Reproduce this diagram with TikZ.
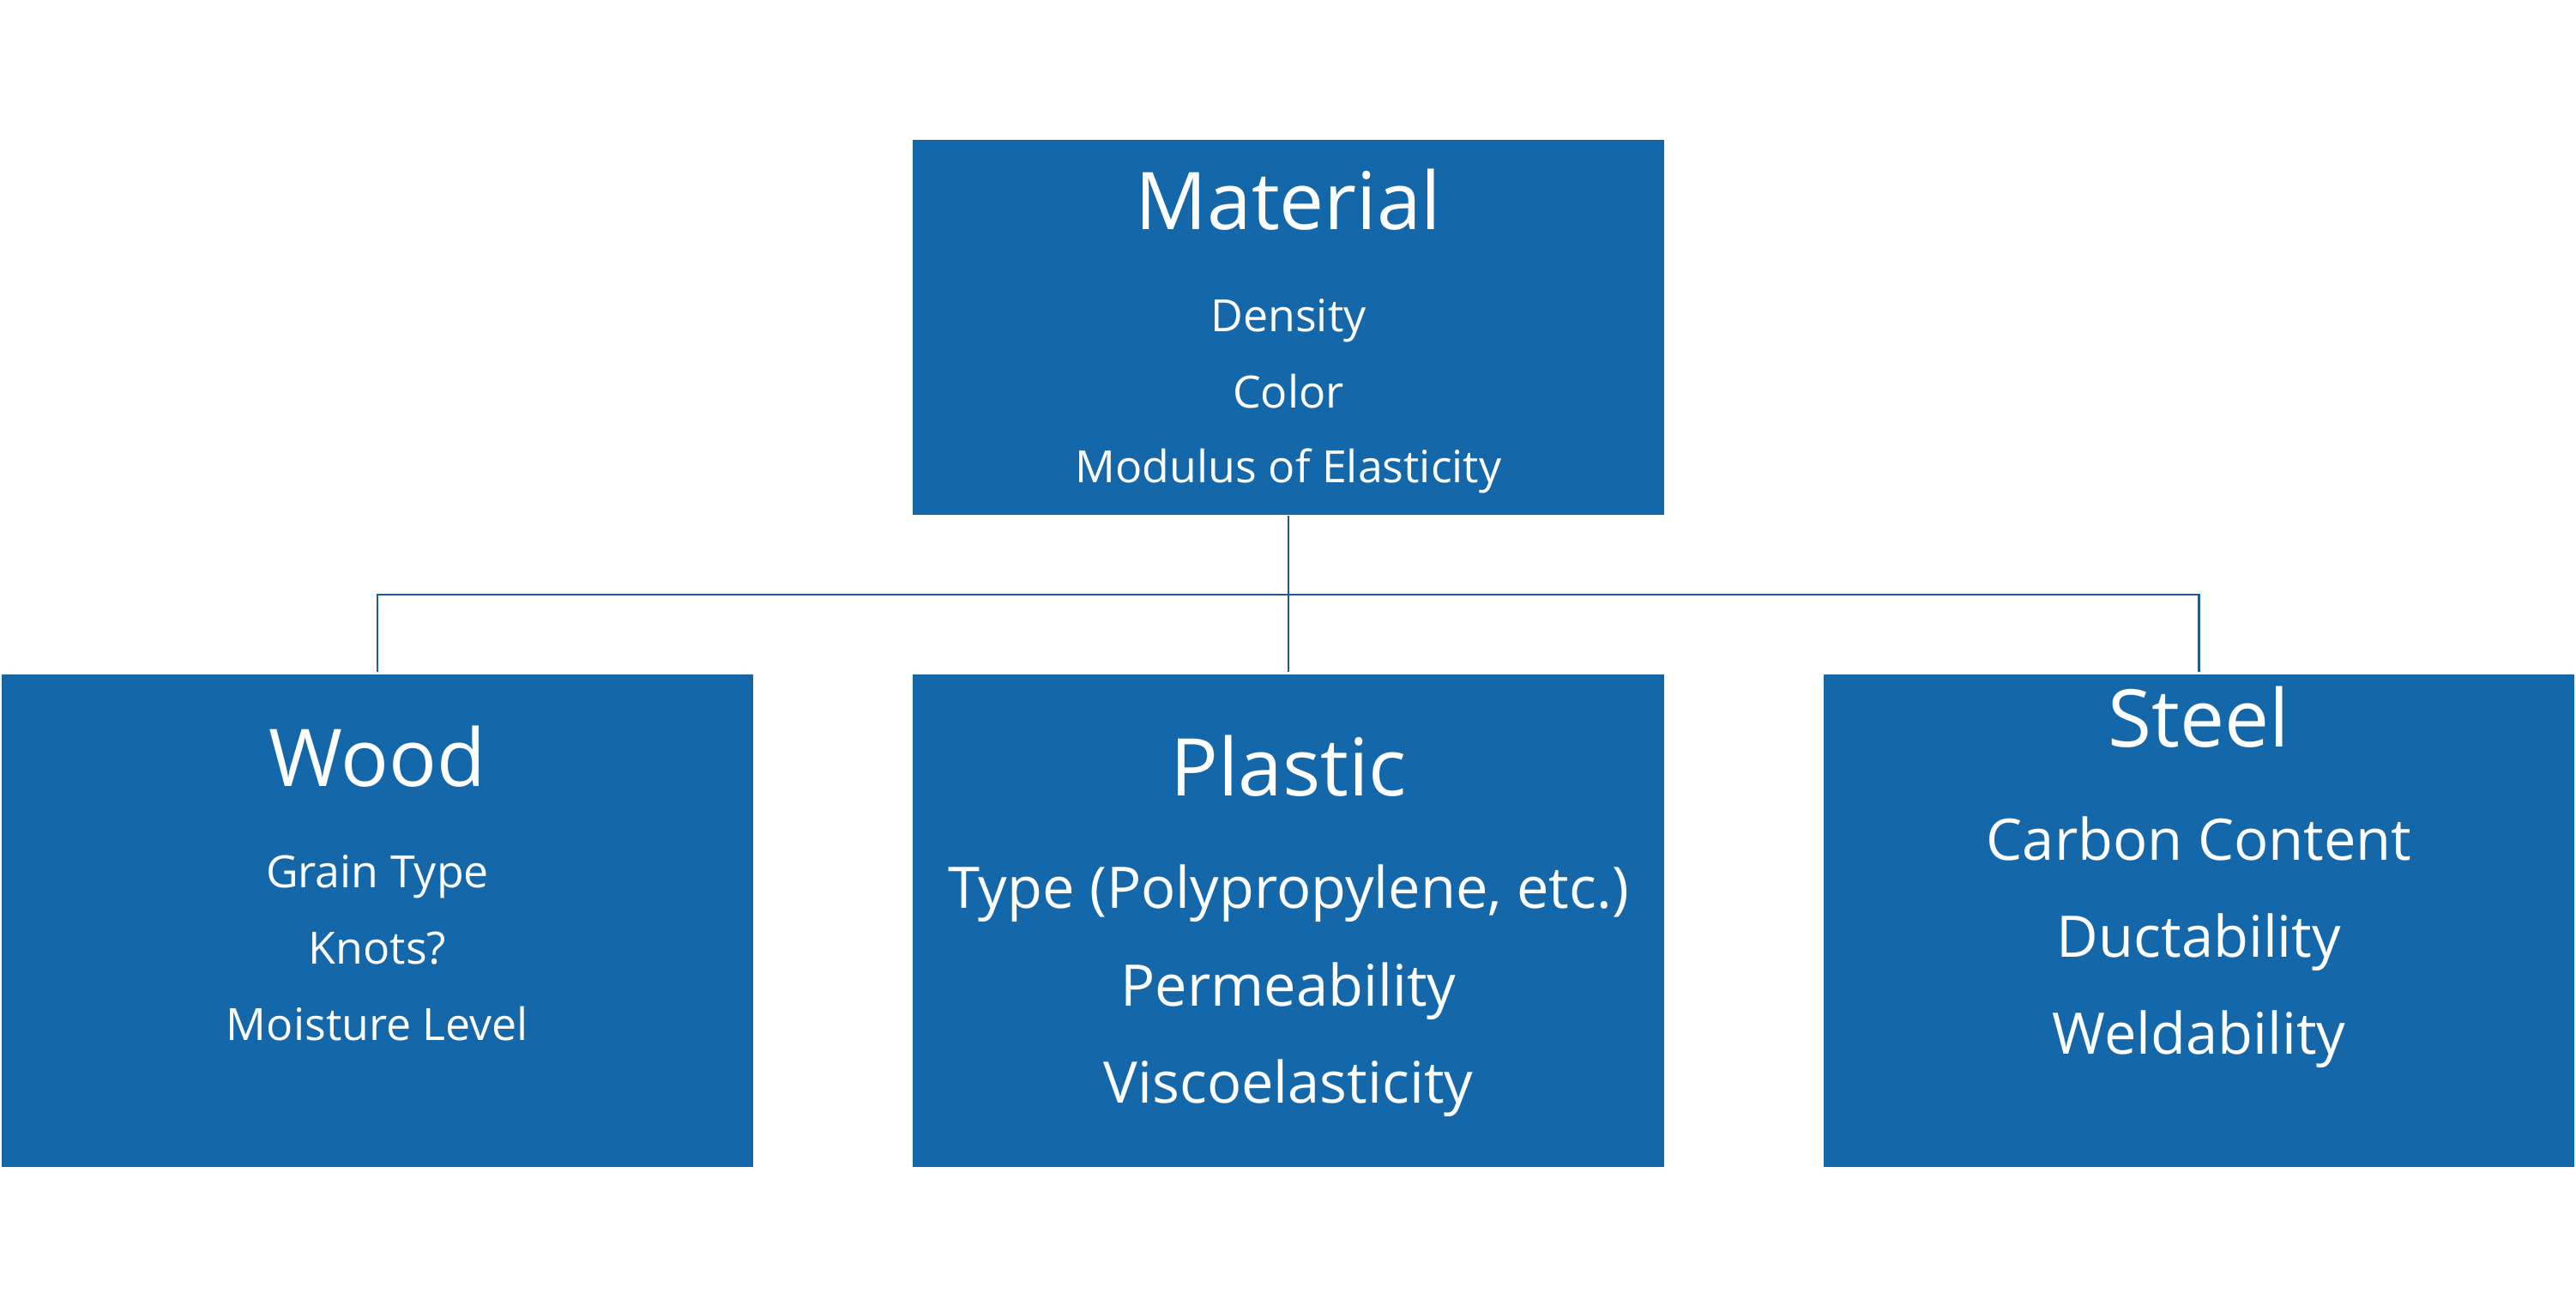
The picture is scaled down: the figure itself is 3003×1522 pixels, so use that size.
\documentclass[tikz,border=0pt]{standalone}
\usepackage{fontspec}
\setmainfont{Open Sans}
\definecolor{boxblue}{HTML}{1468AA}
\definecolor{linkblue}{HTML}{1F5A93}
\begin{document}
\begin{tikzpicture}[x=0.01cm,y=-0.01cm,
  box/.style={fill=boxblue,draw=none,inner sep=0pt,minimum width=8.76cm},
  ttl/.style={text=white,anchor=base,inner sep=0pt,font=\fontsize{26.4}{30}\selectfont},
  sml/.style={text=white,anchor=base,inner sep=0pt,font=\fontsize{14.75}{17}\selectfont},
  big/.style={text=white,anchor=base,inner sep=0pt,font=\fontsize{19}{22}\selectfont},
  link/.style={draw=linkblue,line width=0.8pt}]
\useasboundingbox (0,0) rectangle (3003,1522);
\fill[white] (0,0) rectangle (3003,1522);
% boxes
\node[box,minimum height=4.37cm] (mat) at (1502,381.5) {};
\node[box,minimum height=5.74cm] (wood) at (440,1073) {};
\node[box,minimum height=5.74cm] (plas) at (1502,1073) {};
\node[box,minimum height=5.74cm,minimum width=8.75cm] (steel) at (2563.5,1073) {};
% connectors
\coordinate (bus) at (1502,693);
\draw[link] (mat.south) -- (bus);
\draw[link] (bus) -| ([yshift=0.02cm]wood.north);
\draw[link] (bus) -| ([yshift=0.02cm]steel.north);
\draw[link] (bus) -- ([yshift=0.02cm]plas.north);
% Material texts
\node[ttl] (matT) at (1502,268) {Material};
\node[sml] (matA) at (1502,387) {Density};
\node[sml] (matB) at (1502,476) {Color};
\node[sml] (matC) at (1502,563) {Modulus of Elasticity};
% Wood texts
\node[ttl] (woodT) at (440,916) {Wood};
\node[sml] (woodA) at (440,1034) {Grain Type};
\node[sml] (woodB) at (440,1123) {Knots?};
\node[sml] (woodC) at (440,1212) {Moisture Level};
% Plastic texts
\node[ttl] (plasT) at (1502,927) {Plastic};
\node[big] (plasA) at (1502,1058) {Type (Polypropylene, etc.)};
\node[big] (plasB) at (1502,1172) {Permeability};
\node[big] (plasC) at (1502,1285) {Viscoelasticity};
% Steel texts
\node[ttl] (steelT) at (2563.5,870) {Steel};
\node[big] (steelA) at (2563.5,1002) {Carbon Content};
\node[big] (steelB) at (2563.5,1115) {Ductability};
\node[big] (steelC) at (2563.5,1228) {Weldability};
\end{tikzpicture}
\end{document}
